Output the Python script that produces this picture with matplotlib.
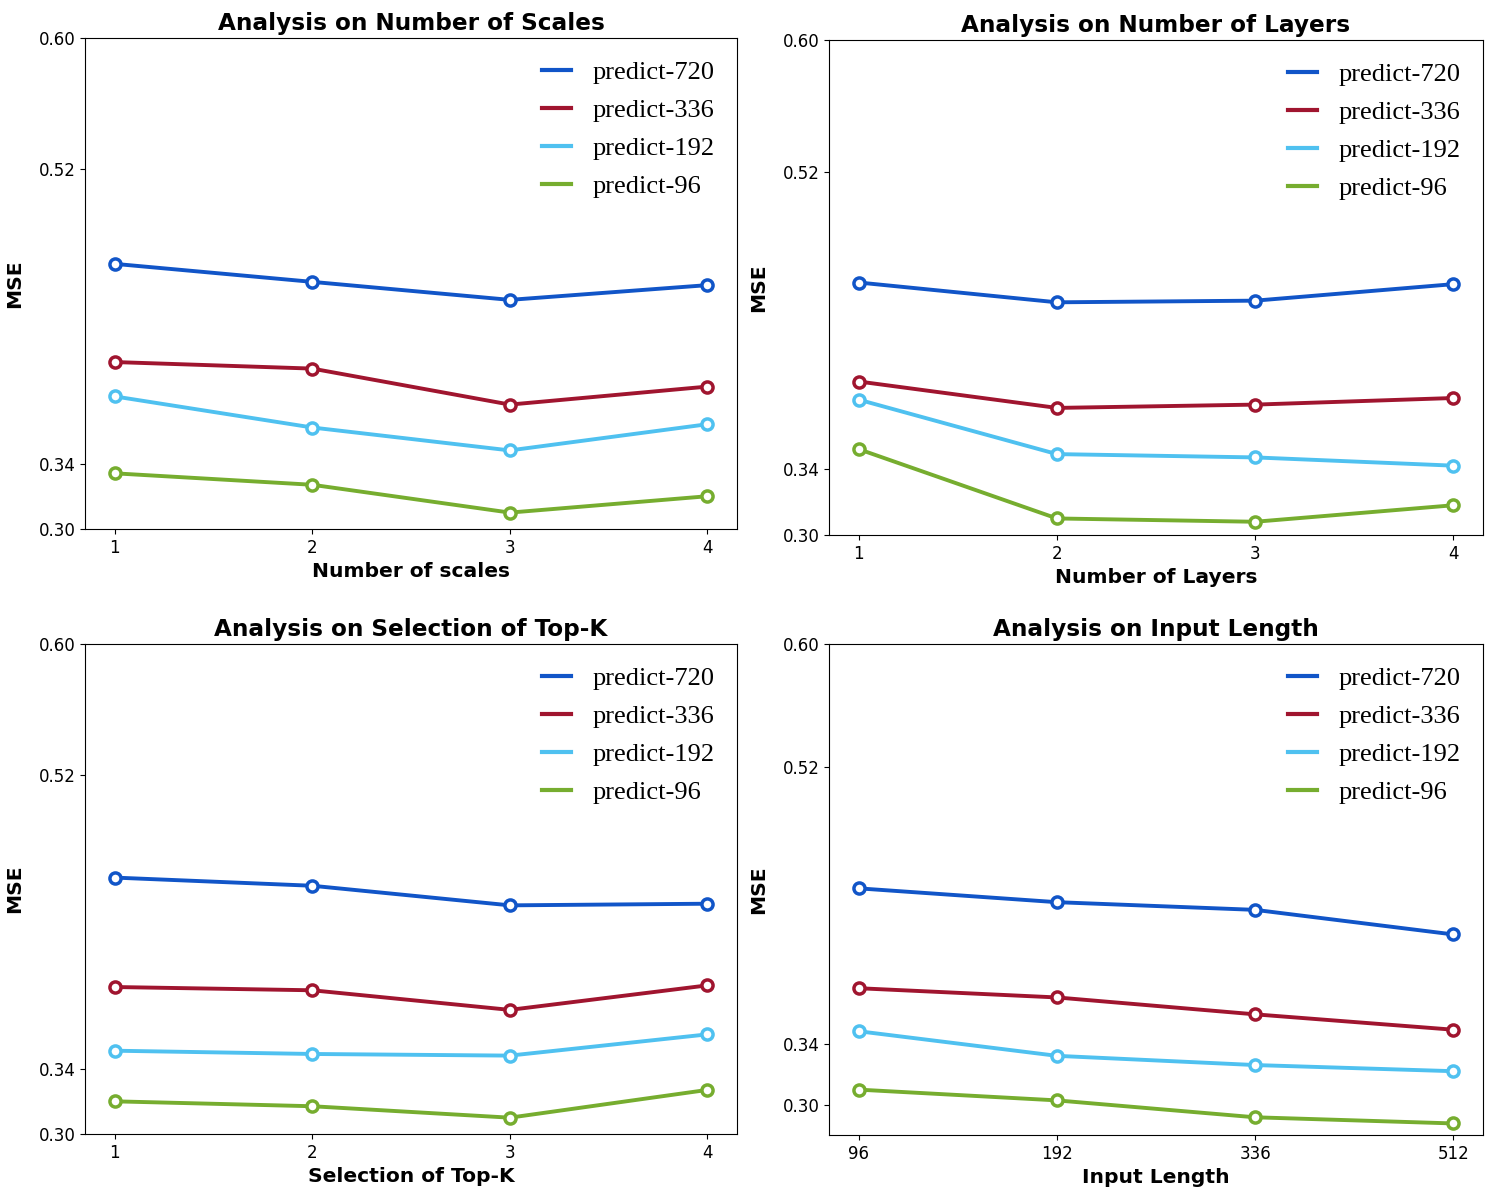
import matplotlib
matplotlib.use("Agg")
import matplotlib.pyplot as plt
from matplotlib.lines import Line2D

# ---- data --------------------------------------------------------------------
series = ["predict-720", "predict-336", "predict-192", "predict-96"]
colors = ["#1155C8", "#A0152F", "#4FC1F0", "#76AD2F"]

scales_x = ["1", "2", "3", "4"]
scales_y = [
    [0.462, 0.451, 0.440, 0.449],
    [0.402, 0.398, 0.376, 0.387],
    [0.381, 0.362, 0.348, 0.364],
    [0.334, 0.327, 0.310, 0.320],
]

layers_x = ["1", "2", "3", "4"]
layers_y = [
    [0.453, 0.441, 0.442, 0.452],
    [0.393, 0.377, 0.379, 0.383],
    [0.382, 0.349, 0.347, 0.342],
    [0.352, 0.310, 0.308, 0.318],
]

topk_x = ["1", "2", "3", "4"]
topk_y = [
    [0.457, 0.452, 0.440, 0.441],
    [0.390, 0.388, 0.376, 0.391],
    [0.351, 0.349, 0.348, 0.361],
    [0.320, 0.317, 0.310, 0.327],
]

inlen_x = ["96", "192", "336", "512"]
inlen_y = [
    [0.441, 0.432, 0.427, 0.411],
    [0.376, 0.370, 0.359, 0.349],
    [0.348, 0.332, 0.326, 0.322],
    [0.310, 0.303, 0.292, 0.288],
]

yticks = [0.30, 0.34, 0.52, 0.60]

panels = [
    ("Analysis on Number of Scales", "Number of scales", scales_x, scales_y,
     [0.0569, 0.5592, 0.4361, 0.4091], (0.30, 0.60)),
    ("Analysis on Number of Layers", "Number of Layers", layers_x, layers_y,
     [0.5545, 0.5542, 0.4375, 0.4125], (0.30, 0.60)),
    ("Analysis on Selection of Top-K", "Selection of Top-K", topk_x, topk_y,
     [0.0569, 0.0550, 0.4361, 0.4083], (0.30, 0.60)),
    ("Analysis on Input Length", "Input Length", inlen_x, inlen_y,
     [0.5545, 0.0542, 0.4375, 0.4091], (0.2805, 0.60)),
]

fig = plt.figure(figsize=(14.95, 12), dpi=100)

for title, xlabel, xs, ys, pos, ylim in panels:
    ax = fig.add_axes(pos)
    idx = list(range(len(xs)))
    for name, col, vals in zip(series, colors, ys):
        ax.plot(idx, vals, color=col, lw=2.8, marker="o", ms=8,
                mfc="white", mec=col, mew=2.5)
    ax.set_xticks(idx)
    ax.set_xticklabels(xs)
    ax.set_yticks(yticks)
    ax.set_yticklabels([f"{t:.2f}" for t in yticks])
    ax.set_ylim(*ylim)
    ax.tick_params(labelsize=12)
    ax.set_title(title, fontsize=16.7, fontweight="bold")
    ax.set_xlabel(xlabel, fontsize=14.6, fontweight="bold", labelpad=4)
    ax.set_ylabel("MSE", fontsize=14.6, fontweight="bold", labelpad=10)
    # legend shows plain line handles, no markers
    handles = [Line2D([], [], color=c, lw=3) for c in colors]
    ax.legend(handles, series, loc="upper right", frameon=False,
              prop={"family": "Liberation Serif", "size": 19},
              handlelength=1.1, handletextpad=0.8, labelspacing=0.55,
              borderaxespad=0.45)

fig.savefig("out.png", dpi=100)
